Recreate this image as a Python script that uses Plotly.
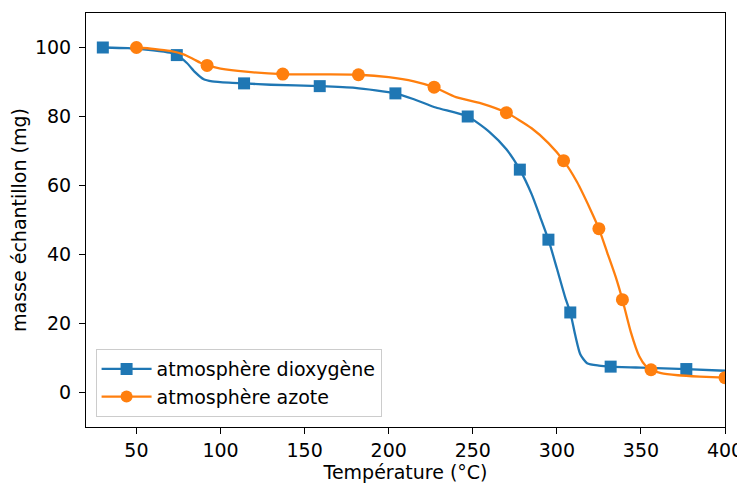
import plotly.graph_objects as go

# marker points
o2_mx = [30, 74, 114, 159, 204, 247, 278, 295, 308, 332, 377]
o2_my = [100, 97.8, 89.6, 88.8, 86.7, 80.0, 64.6, 44.3, 23.2, 7.5, 6.8]
n2_mx = [50, 92, 137, 182, 227, 270, 304, 325, 339, 356, 400]
n2_my = [100, 94.8, 92.3, 92.1, 88.5, 81.1, 67.2, 47.5, 26.9, 6.6, 4.3]

# curve points
o2_cx = [30, 45, 60, 70, 74, 80, 85, 90, 95, 105, 114, 130, 159, 180, 204, 215, 228, 247, 260, 270, 278, 285, 290, 295, 300, 305, 308, 311, 314, 318, 325, 332, 350, 377, 400]
o2_cy = [100, 99.8, 99.2, 98.5, 97.8, 95.5, 92.8, 90.8, 90.2, 89.8, 89.6, 89.2, 88.8, 88.3, 86.7, 85.0, 82.6, 80.0, 75.5, 70.5, 64.6, 57.5, 51.0, 44.3, 36.0, 27.5, 23.2, 16.5, 11.0, 8.5, 7.8, 7.5, 7.2, 6.8, 6.3]
n2_cx = [50, 60, 70, 78, 84, 88, 92, 100, 115, 137, 160, 182, 200, 215, 227, 240, 255, 270, 285, 295, 304, 312, 320, 325, 330, 335, 339, 344, 349, 353, 356, 362, 372, 385, 400]
n2_cy = [100, 99.6, 99.0, 98.0, 96.6, 95.6, 94.8, 93.9, 93.0, 92.3, 92.2, 92.1, 91.4, 90.2, 88.5, 85.6, 83.8, 81.1, 76.6, 72.3, 67.2, 61.0, 53.0, 47.5, 40.5, 33.5, 26.9, 17.5, 10.5, 7.6, 6.6, 5.6, 5.0, 4.6, 4.3]

blue = "#1f77b4"
orange = "#ff7f0e"
FS = 19

fig = go.Figure()
for name, cx, cy, mx, my, col, sym in [
    ("atmosphère dioxygène", o2_cx, o2_cy, o2_mx, o2_my, blue, "square"),
    ("atmosphère azote", n2_cx, n2_cy, n2_mx, n2_my, orange, "circle"),
]:
    fig.add_trace(go.Scatter(x=cx, y=cy, mode="lines", line=dict(color=col, width=2.3, shape="spline", smoothing=0.6),
                             showlegend=False, hoverinfo="skip", legendgroup=name))
    fig.add_trace(go.Scatter(x=mx, y=my, mode="markers", marker=dict(color=col, size=12 if sym == "square" else 13, symbol=sym),
                             showlegend=False, legendgroup=name))
    fig.add_trace(go.Scatter(x=[None], y=[None], mode="lines+markers", name=name,
                             line=dict(color=col, width=2.3),
                             marker=dict(color=col, size=12, symbol=sym), legendgroup=name))

axis_common = dict(showline=True, linecolor="black", linewidth=1, mirror=True, ticks="outside",
                   ticklen=6, tickcolor="black", showgrid=False, zeroline=False, automargin=False,
                   tickfont=dict(size=FS, color="black"))
# the page body adds an 8px offset, so the figure is sized to fit the window
fig.update_layout(
    width=737, height=478,
    margin=dict(l=78, r=20, t=5, b=59),
    paper_bgcolor="white", plot_bgcolor="white",
    font=dict(family="DejaVu Sans", size=FS, color="black"),
    xaxis=dict(range=[20, 400], tickvals=[50, 100, 150, 200, 250, 300, 350, 400],
               title=dict(text="Température (°C)", font=dict(size=FS), standoff=4), **axis_common),
    yaxis=dict(range=[-10, 110], tickvals=[0, 20, 40, 60, 80, 100], ticklabelstandoff=4,
               title=dict(text="masse échantillon (mg)", font=dict(size=FS), standoff=6), **axis_common),
    legend=dict(x=0.015, y=0.024, xanchor="left", yanchor="bottom", bgcolor="rgba(255,255,255,0.8)",
                bordercolor="#cccccc", borderwidth=1, font=dict(size=FS), itemwidth=50,
                tracegroupgap=0),
)
fig.write_html("out.html")
